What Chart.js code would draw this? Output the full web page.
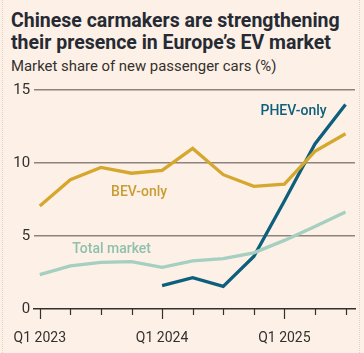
<!DOCTYPE html>
<html>
<head>
<meta charset="utf-8">
<script src="https://cdn.jsdelivr.net/npm/chart.js@4.4.1/dist/chart.umd.min.js"></script>
<style>
  html, body { margin: 0; padding: 0; }
  body {
    width: 364px; height: 353px; overflow: hidden;
    background: #fdf0e6;
    font-family: Roboto, "Noto Sans", sans-serif;
    position: relative;
  }
  .frame {
    position: absolute; left: 2px; top: 0; width: 358px; height: 353px;
    border-left: 1px dotted #e6d2c4; border-right: 1px dotted #e6d2c4;
    box-sizing: border-box;
  }
  h1 {
    position: absolute; left: 11px; top: 10px; margin: 0;
    font-size: 19.5px; line-height: 22px; font-weight: 700; color: #262a33;
  }
  .sub {
    position: absolute; left: 11px; top: 57px; margin: 0;
    font-size: 14.9px; color: #33302e;
  }
  .wrap { position: absolute; left: 0; top: 76px; width: 364px; height: 277px; }
</style>
</head>
<body>
<div class="frame"></div>
<h1>Chinese carmakers are strengthening<br>their presence in Europe’s EV market</h1>
<div class="sub">Market share of new passenger cars (%)</div>
<div class="wrap"><canvas id="chart"></canvas></div>
<script>
// --- data ---
const quarters = ['Q1 2023', 'Q2 2023', 'Q3 2023', 'Q4 2023',
                  'Q1 2024', 'Q2 2024', 'Q3 2024', 'Q4 2024',
                  'Q1 2025', 'Q2 2025', 'Q3 2025'];
const bevOnly = [7.05, 8.85, 9.7, 9.3, 9.5, 11.0, 9.2, 8.4, 8.55, 10.8, 12.0];
const phevOnly = [null, null, null, null, 1.6, 2.15, 1.55, 3.6, 7.4, 11.3, 14.0];
const totalMarket = [2.35, 2.95, 3.2, 3.25, 2.85, 3.3, 3.45, 3.85, 4.7, 5.65, 6.65];
const yTicks = [0, 5, 10, 15];

const GOLD = '#d6a72e';
const TEAL = '#0d5f7b';
const PALE = '#a5cfc0';

// label anchors in data units (x = quarter index, y = percent)
const lineLabels = [
    { text: 'BEV-only', x: 3.25, y: 8.0, color: '#c99d35' },
    { text: 'PHEV-only', x: 8.3, y: 13.5, color: TEAL },
    { text: 'Total market', x: 2.35, y: 4.05, color: '#8fc0ae' }
];

const toPoints = arr => arr.map((v, i) => ({ x: i, y: v }));

// draws quarter ticks under the axis and the in-chart line labels
const decorPlugin = {
    id: 'decor',
    afterDraw(chart) {
        const { ctx, scales: { x, y } } = chart;
        const base = y.getPixelForValue(0);
        ctx.save();
        ctx.strokeStyle = '#33302e';
        ctx.lineWidth = 1.2;
        quarters.forEach((q, i) => {
            const px = Math.round(x.getPixelForValue(i)) + 0.5;
            const len = q.startsWith('Q1') ? 10 : 6;
            ctx.beginPath();
            ctx.moveTo(px, base);
            ctx.lineTo(px, base + len);
            ctx.stroke();
        });
        ctx.font = '500 14px Roboto, "Noto Sans", sans-serif';
        ctx.textAlign = 'center';
        ctx.textBaseline = 'middle';
        lineLabels.forEach(l => {
            ctx.fillStyle = l.color;
            ctx.fillText(l.text, x.getPixelForValue(l.x), y.getPixelForValue(l.y));
        });
        ctx.restore();
    }
};

new Chart(document.getElementById('chart'), {
    type: 'line',
    data: {
        datasets: [
            { label: 'Total market', data: toPoints(totalMarket), borderColor: PALE },
            { label: 'BEV-only', data: toPoints(bevOnly), borderColor: GOLD },
            { label: 'PHEV-only', data: toPoints(phevOnly), borderColor: TEAL }
        ]
    },
    options: {
        responsive: true,
        maintainAspectRatio: false,
        animation: false,
        events: [],
        layout: { padding: { top: 14, right: 9, left: 0, bottom: 0 } },
        elements: {
            line: { borderWidth: 3.3, tension: 0, borderCapStyle: 'butt', borderJoinStyle: 'miter' },
            point: { radius: 0 }
        },
        spanGaps: false,
        plugins: { legend: { display: false }, tooltip: { enabled: false } },
        scales: {
            x: {
                type: 'linear',
                min: -0.185,
                max: 10.31,
                afterBuildTicks: s => { s.ticks = quarters.map((q, i) => ({ value: i })); },
                afterFit: s => { s.height = 44; },
                grid: { display: false },
                border: { display: true, color: '#33302e', width: 1.5 },
                ticks: {
                    autoSkip: false,
                    maxRotation: 0,
                    padding: 13,
                    color: '#33302e',
                    font: { size: 14, family: 'Roboto, "Noto Sans", sans-serif' },
                    callback: v => quarters[v].startsWith('Q1') ? quarters[v] : ''
                }
            },
            y: {
                min: 0,
                max: 15,
                afterBuildTicks: s => { s.ticks = yTicks.map(v => ({ value: v })); },
                afterFit: s => { s.width = 32; },
                border: { display: false },
                grid: {
                    drawTicks: false,
                    color: c => c.tick.value === 0 ? 'rgba(0,0,0,0)' : '#8e847d',
                    lineWidth: 1.5
                },
                ticks: {
                    padding: 4,
                    color: '#33302e',
                    font: { size: 15, family: 'Roboto, "Noto Sans", sans-serif' }
                }
            }
        }
    },
    plugins: [decorPlugin]
});
</script>
</body>
</html>
